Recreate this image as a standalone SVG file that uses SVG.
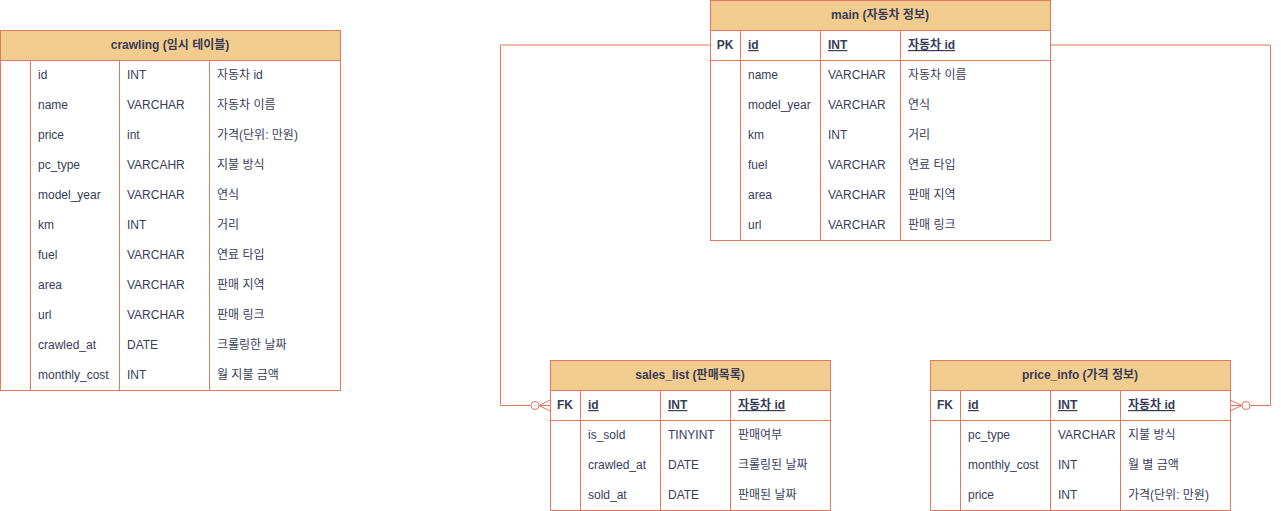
<svg xmlns="http://www.w3.org/2000/svg" width="1281" height="511" viewBox="0 0 1281 511">
<style>
text{font-family:"Liberation Sans","Noto Sans CJK KR",sans-serif;font-size:12px;fill:#393C56}
.h{font-weight:bold;text-anchor:middle}
.k{font-weight:bold;text-anchor:middle}
.u{font-weight:bold;text-decoration:underline}
.box{fill:#FFFFFF;stroke:#E07A5F;stroke-width:1}
.hd{fill:#F2CC8F;stroke:#E07A5F;stroke-width:1}
.ln{stroke:#E07A5F;stroke-width:1;fill:none}
</style>
<rect x="0" y="0" width="1281" height="511" fill="#FFFFFF"/>
<g id="connectors">
<path class="ln" d="M710 45 H500.5 V405.5 H531"/>
<circle class="ln" cx="535" cy="405.5" r="4"/>
<path class="ln" d="M539 405.5 H550 M539 405.5 L550 400 M539 405.5 L550 411"/>
<path class="ln" d="M1050 45 H1270.5 V405.5 H1250"/>
<circle class="ln" cx="1246" cy="405.5" r="4"/>
<path class="ln" d="M1242 405.5 H1230 M1242 405.5 L1230 400 M1242 405.5 L1230 411"/>
</g>
<g id="crawling">
<rect class="box" x="0.5" y="30.5" width="340" height="360"/>
<rect class="hd" x="0.5" y="30.5" width="340" height="30"/>
<path class="ln" d="M30.5 60.5 V390.5 M119.5 60.5 V390.5 M209.5 60.5 V390.5"/>
<text class="h" x="170" y="49">crawling (임시 테이블)</text>
<text x="38" y="79">id</text><text x="127" y="79">INT</text><text x="217" y="79">자동차 id</text>
<text x="38" y="109">name</text><text x="127" y="109">VARCHAR</text><text x="217" y="109">자동차 이름</text>
<text x="38" y="139">price</text><text x="127" y="139">int</text><text x="217" y="139">가격(단위: 만원)</text>
<text x="38" y="169">pc_type</text><text x="127" y="169">VARCAHR</text><text x="217" y="169">지불 방식</text>
<text x="38" y="199">model_year</text><text x="127" y="199">VARCHAR</text><text x="217" y="199">연식</text>
<text x="38" y="229">km</text><text x="127" y="229">INT</text><text x="217" y="229">거리</text>
<text x="38" y="259">fuel</text><text x="127" y="259">VARCHAR</text><text x="217" y="259">연료 타입</text>
<text x="38" y="289">area</text><text x="127" y="289">VARCHAR</text><text x="217" y="289">판매 지역</text>
<text x="38" y="319">url</text><text x="127" y="319">VARCHAR</text><text x="217" y="319">판매 링크</text>
<text x="38" y="349">crawled_at</text><text x="127" y="349">DATE</text><text x="217" y="349">크롤링한 날짜</text>
<text x="38" y="379">monthly_cost</text><text x="127" y="379">INT</text><text x="217" y="379">월 지불 금액</text>
</g>
<g id="main">
<rect class="box" x="710.5" y="0.5" width="340" height="240"/>
<rect class="hd" x="710.5" y="0.5" width="340" height="30"/>
<path class="ln" d="M710.5 60.5 H1050.5 M740.5 30.5 V240.5 M820.5 30.5 V240.5 M900.5 30.5 V240.5"/>
<text class="h" x="880" y="19">main (자동차 정보)</text>
<text class="k" x="725" y="49">PK</text>
<text class="u" x="748" y="49">id</text><text class="u" x="828" y="49">INT</text><text class="u" x="908" y="49">자동차 id</text>
<text x="748" y="79">name</text><text x="828" y="79">VARCHAR</text><text x="908" y="79">자동차 이름</text>
<text x="748" y="109">model_year</text><text x="828" y="109">VARCHAR</text><text x="908" y="109">연식</text>
<text x="748" y="139">km</text><text x="828" y="139">INT</text><text x="908" y="139">거리</text>
<text x="748" y="169">fuel</text><text x="828" y="169">VARCHAR</text><text x="908" y="169">연료 타입</text>
<text x="748" y="199">area</text><text x="828" y="199">VARCHAR</text><text x="908" y="199">판매 지역</text>
<text x="748" y="229">url</text><text x="828" y="229">VARCHAR</text><text x="908" y="229">판매 링크</text>
</g>
<g id="sales_list">
<rect class="box" x="550.5" y="360.5" width="280" height="150"/>
<rect class="hd" x="550.5" y="360.5" width="280" height="30"/>
<path class="ln" d="M550.5 420.5 H830.5 M580.5 390.5 V510.5 M660.5 390.5 V510.5 M730.5 390.5 V510.5"/>
<text class="h" x="690" y="379">sales_list (판매목록)</text>
<text class="k" x="565" y="409">FK</text>
<text class="u" x="588" y="409">id</text><text class="u" x="668" y="409">INT</text><text class="u" x="738" y="409">자동차 id</text>
<text x="588" y="439">is_sold</text><text x="668" y="439">TINYINT</text><text x="738" y="439">판매여부</text>
<text x="588" y="469">crawled_at</text><text x="668" y="469">DATE</text><text x="738" y="469">크롤링된 날짜</text>
<text x="588" y="499">sold_at</text><text x="668" y="499">DATE</text><text x="738" y="499">판매된 날짜</text>
</g>
<g id="price_info">
<rect class="box" x="930.5" y="360.5" width="300" height="150"/>
<rect class="hd" x="930.5" y="360.5" width="300" height="30"/>
<path class="ln" d="M930.5 420.5 H1230.5 M960.5 390.5 V510.5 M1050.5 390.5 V510.5 M1120.5 390.5 V510.5"/>
<text class="h" x="1080" y="379">price_info (가격 정보)</text>
<text class="k" x="945" y="409">FK</text>
<text class="u" x="968" y="409">id</text><text class="u" x="1058" y="409">INT</text><text class="u" x="1128" y="409">자동차 id</text>
<text x="968" y="439">pc_type</text><text x="1058" y="439">VARCHAR</text><text x="1128" y="439">지불 방식</text>
<text x="968" y="469">monthly_cost</text><text x="1058" y="469">INT</text><text x="1128" y="469">월 별 금액</text>
<text x="968" y="499">price</text><text x="1058" y="499">INT</text><text x="1128" y="499">가격(단위: 만원)</text>
</g>
</svg>
